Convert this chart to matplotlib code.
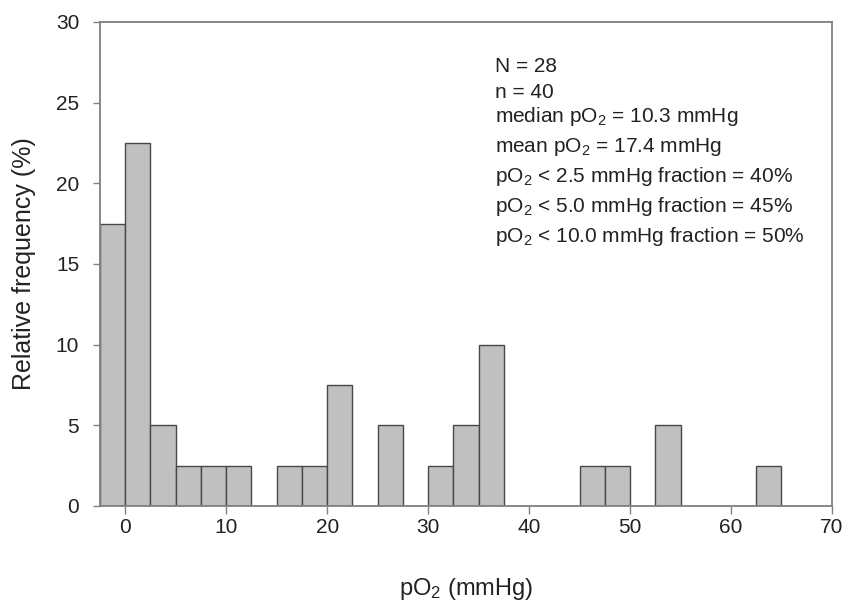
import numpy as np
import matplotlib
matplotlib.use("Agg")
import matplotlib.pyplot as plt

plt.rcParams['font.family'] = ['Liberation Sans', 'DejaVu Sans']
plt.rcParams['mathtext.fontset'] = 'custom'
plt.rcParams['mathtext.rm'] = 'Liberation Sans'
plt.rcParams['mathtext.it'] = 'Liberation Sans'

# histogram bins (left edge, mmHg) and relative frequency (%)
bin_left = [-2.5, 0, 2.5, 5, 7.5, 10, 15, 17.5, 20, 25, 30, 32.5, 35, 45, 47.5, 52.5, 62.5]
rel_freq = [17.5, 22.5, 5, 2.5, 2.5, 2.5, 2.5, 2.5, 7.5, 5, 2.5, 5, 10, 2.5, 2.5, 5, 2.5]
bin_width = 2.5

x_ticks = [0, 10, 20, 30, 40, 50, 60, 70]
y_ticks = [0, 5, 10, 15, 20, 25, 30]

stats_lines = [
    "N = 28",
    "n = 40",
    r"median pO$_2$ = 10.3 mmHg",
    r"mean pO$_2$ = 17.4 mmHg",
    r"pO$_2$ < 2.5 mmHg fraction = 40%",
    r"pO$_2$ < 5.0 mmHg fraction = 45%",
    r"pO$_2$ < 10.0 mmHg fraction = 50%",
]
# vertical positions of each stats line (axes fraction)
stats_y = [0.907, 0.855, 0.804, 0.742, 0.680, 0.618, 0.556]

fig = plt.figure(figsize=(8.46, 6.03), dpi=100)
ax = fig.add_axes([0.1182, 0.1609, 0.8652, 0.8027])

ax.bar(bin_left, rel_freq, width=bin_width, align='edge',
       color='#c0c0c0', edgecolor='#484848', linewidth=1.0)

ax.set_xlim(-2.5, 70)
ax.set_ylim(0, 30)
ax.set_xticks(x_ticks)
ax.set_yticks(y_ticks)

for s in ax.spines.values():
    s.set_color('#808080')
    s.set_linewidth(1.3)
ax.tick_params(direction='out', length=5, width=1, color='#808080',
               labelsize=15, labelcolor='#222222')
ax.tick_params(axis='y', pad=10)
ax.tick_params(axis='x', length=6, pad=3)

ax.set_xlabel(r"pO$_2$ (mmHg)", fontsize=17, color='#222222', labelpad=28)
ax.set_ylabel("Relative frequency (%)", fontsize=18, color='#222222', labelpad=14)

for line, yy in zip(stats_lines, stats_y):
    ax.text(0.539, yy, line, transform=ax.transAxes, fontsize=15,
            color='#222222', va='center', ha='left')

fig.savefig("out.png", dpi=100)
